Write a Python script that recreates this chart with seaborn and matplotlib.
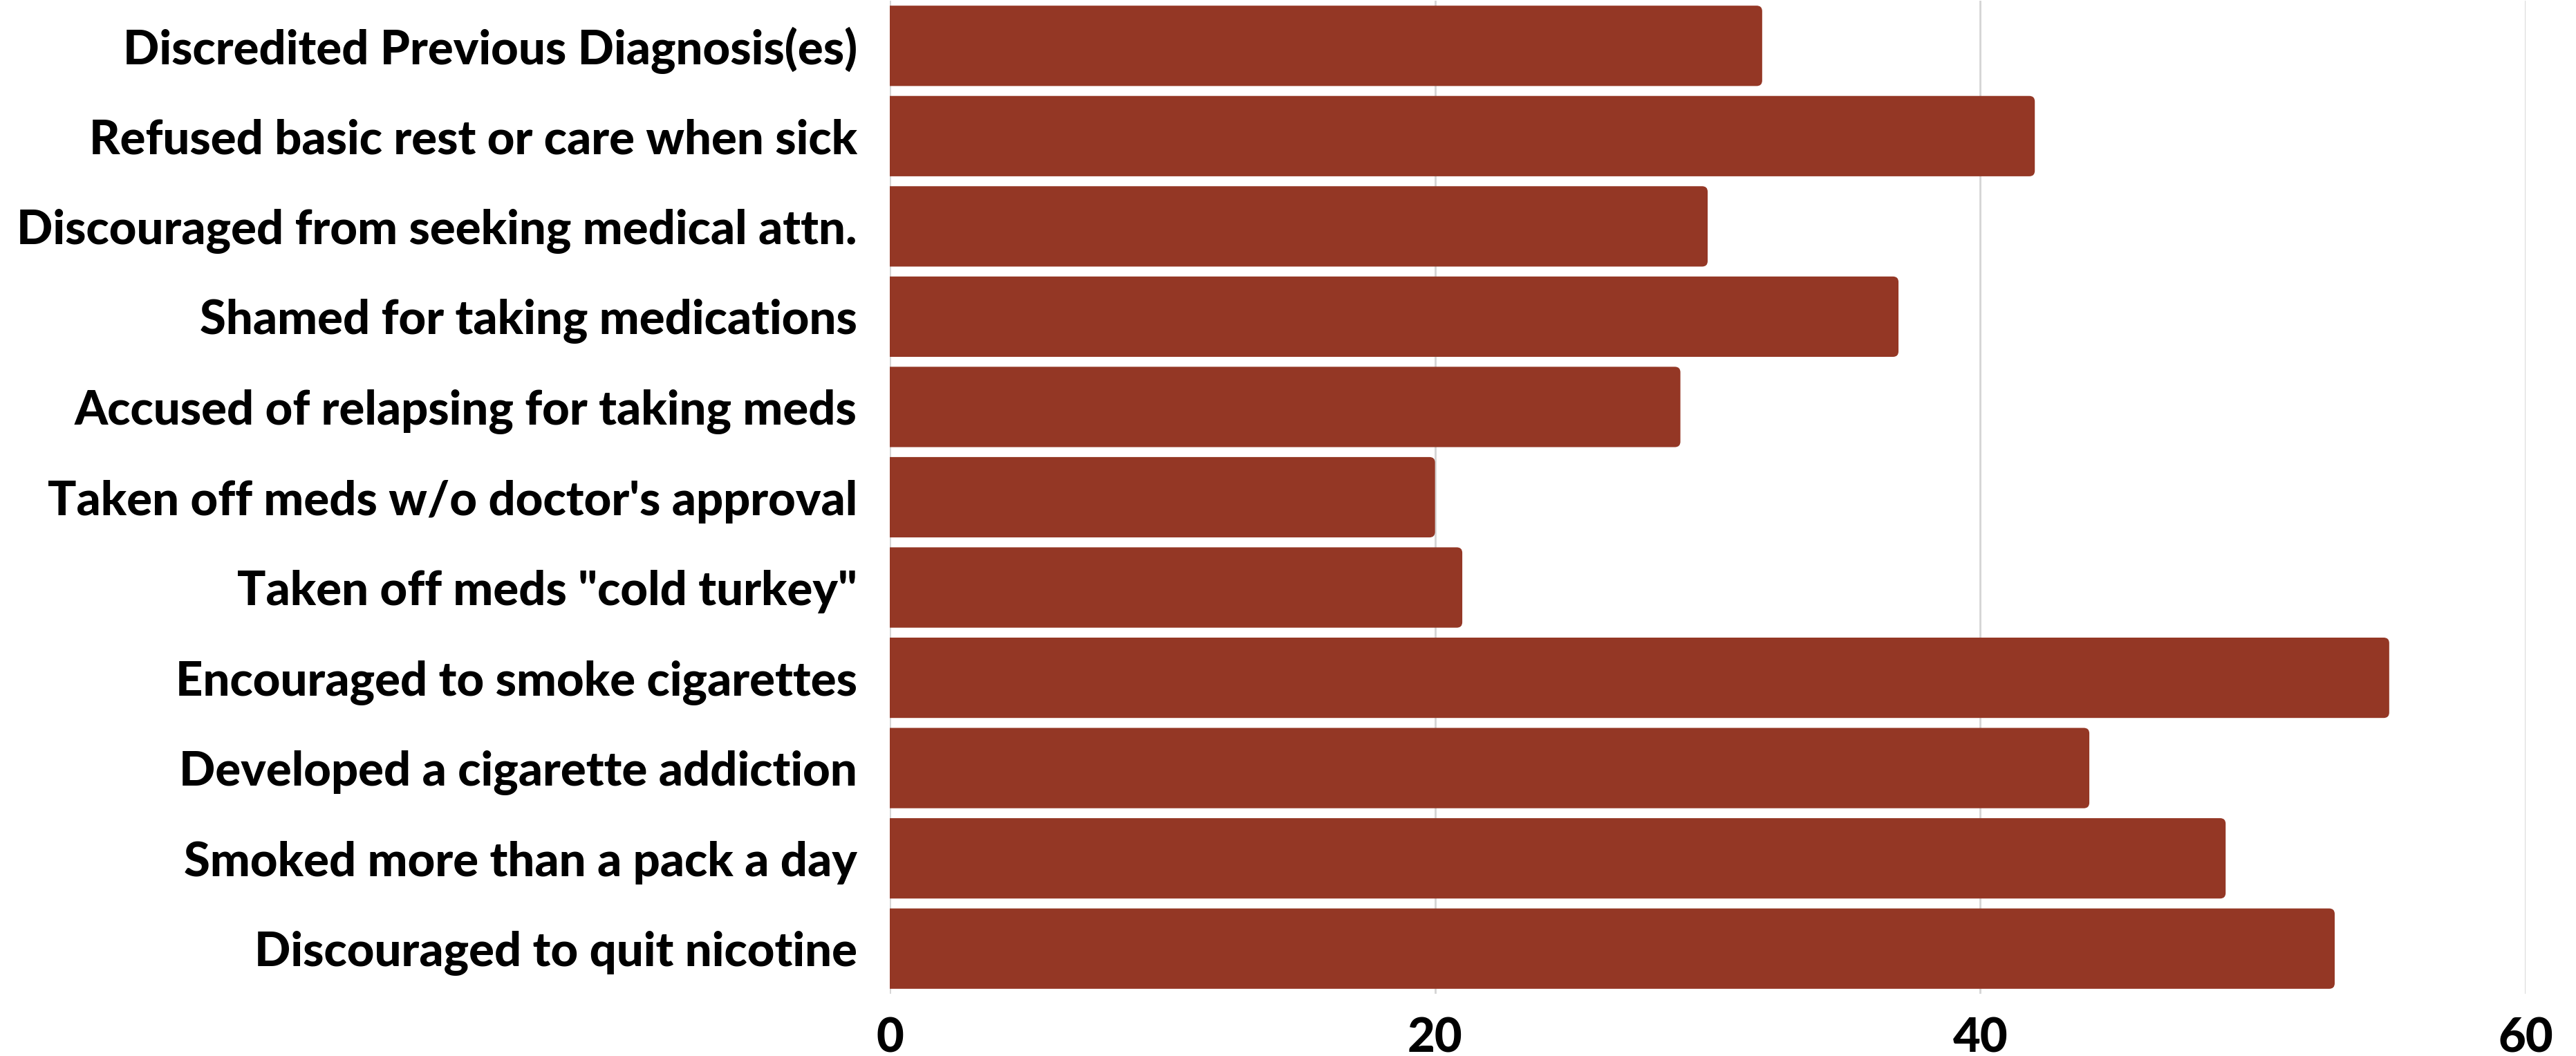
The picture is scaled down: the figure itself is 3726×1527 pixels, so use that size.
import matplotlib
matplotlib.use("Agg")
import matplotlib.pyplot as plt
from matplotlib.patches import FancyBboxPatch
import seaborn as sns
import pandas as pd

categories = [
    "Discredited Previous Diagnosis(es)",
    "Refused basic rest or care when sick",
    "Discouraged from seeking medical attn.",
    "Shamed for taking medications",
    "Accused of relapsing for taking meds",
    "Taken off meds w/o doctor's approval",
    'Taken off meds "cold turkey"',
    "Encouraged to smoke cigarettes",
    "Developed a cigarette addiction",
    "Smoked more than a pack a day",
    "Discouraged to quit nicotine",
]
values = [32, 42, 30, 37, 29, 20, 21, 55, 44, 49, 53]
xticks = [0, 20, 40, 60]

BAR = "#943725"

sns.set_theme(style="white")
plt.rcParams["font.family"] = ["Lato", "DejaVu Sans"]

df = pd.DataFrame({"cat": categories, "val": values})

fig = plt.figure(figsize=(37.26, 15.27), dpi=100)
ax = fig.add_axes([1287 / 3726, 1 - 1437 / 1527, (3653 - 1287) / 3726, (1437 - 1) / 1527])

sns.barplot(data=df, y="cat", x="val", orient="h", color=BAR, saturation=1,
            width=0.89, ax=ax, zorder=2)

ax.set_xlim(0, 60)
ax.set_ylim(len(categories) - 0.5, -0.5)

# rounded right corners
px_x = 60 / (3653 - 1287)
px_y = len(categories) / (1437 - 1)
aspect = px_y / px_x
r = 8 * px_x
for p in list(ax.patches):
    x, y = p.get_x(), p.get_y()
    w, h = p.get_width(), p.get_height()
    p.set_visible(False)
    fb = FancyBboxPatch((x - 3 * r, y), w + 3 * r, h,
                        boxstyle=f"round,pad=0,rounding_size={r}",
                        mutation_aspect=aspect, facecolor=BAR, edgecolor="none",
                        zorder=2, clip_on=True)
    ax.add_patch(fb)

ax.set_xticks(xticks)
ax.set_xticklabels([str(t) for t in xticks])
ax.grid(axis="x", color="#d4d4d4", linewidth=2, zorder=0)
ax.grid(axis="y", visible=False)
ax.set_axisbelow(True)
for s in ax.spines.values():
    s.set_visible(False)
ax.set_xlabel("")
ax.set_ylabel("")
ax.tick_params(axis="both", length=0)
ax.tick_params(axis="y", pad=34, labelsize=49.5)
ax.tick_params(axis="x", pad=24, labelsize=49.5)
for t in ax.get_yticklabels() + ax.get_xticklabels():
    t.set_fontweight("black")
    t.set_color("#000000")

fig.savefig("out.png", dpi=100, facecolor="white")
